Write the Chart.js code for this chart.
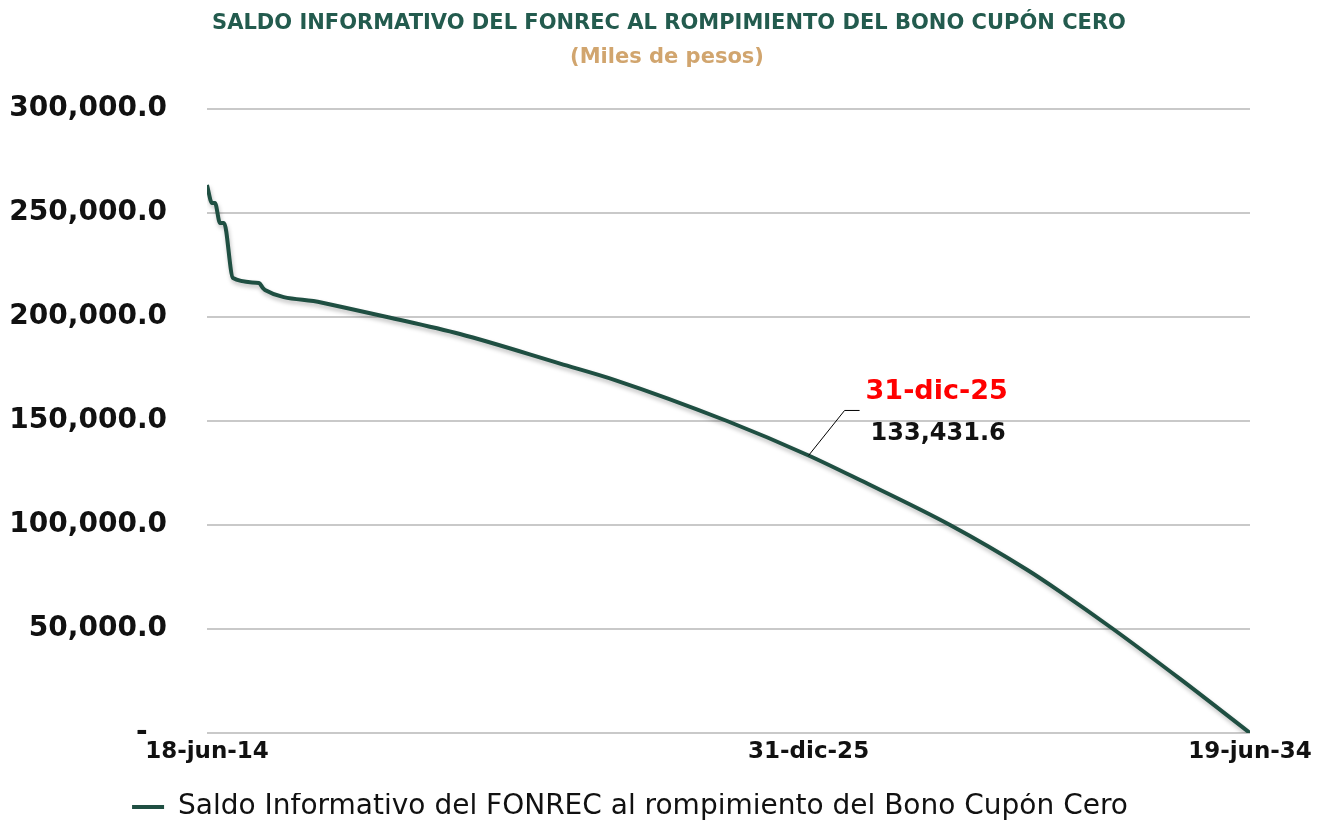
<!DOCTYPE html>
<html>
<head>
<meta charset="utf-8">
<script src="https://cdn.jsdelivr.net/npm/chart.js@4.4.1/dist/chart.umd.min.js"></script>
<style>
  body { margin: 0; background: #fff; }
  #wrap { width: 1318px; height: 825px; }
</style>
</head>
<body>
<div id="wrap"><canvas id="grafica" width="1318" height="825"></canvas></div>
<script>
// dias desde el 18-jun-14 y saldo en miles de pesos
const dias = [0, 35, 56, 91, 119, 182, 364, 392, 406, 800, 1261, 1772, 2473, 2858, 3643, 4214, 4574, 5205, 5744, 5975, 6347, 6816, 7306]
const saldo = [263500, 254800, 254800, 245200, 245200, 218750, 216350, 213900, 213000, 207000, 200000, 191800, 177600, 169700, 150000, 133431.6, 121600, 100000, 78500, 68000, 50000, 26000, 0]

const tickDias = [0, 4214, 7306]
const tickFechas = ['18-jun-14', '31-dic-25', '19-jun-34']
const yTicks = [0, 50000, 100000, 150000, 200000, 250000, 300000]

const titulo = 'SALDO INFORMATIVO DEL FONREC AL ROMPIMIENTO DEL BONO CUPÓN CERO'
const subtitulo = '(Miles de pesos)'
const serie = 'Saldo Informativo del FONREC al rompimiento del Bono Cupón Cero'
const corte = { dia: 4214, valor: 133431.6, fecha: '31-dic-25' }

const verde = '#1f4f42'
const fuente = "'DejaVu Sans'"

//formato contable: el cero se muestra como guion
const fmt = v => v === 0 ? '-  ' : v.toLocaleString('en-US', { minimumFractionDigits: 1, maximumFractionDigits: 1 })

//titulo y subtitulo centrados en la pagina
const encabezado = {
  id: 'encabezado',
  afterDraw(chart) {
    const ctx = chart.ctx
    const cx = chart.width / 2 + 10
    ctx.save()
    ctx.textAlign = 'center'
    ctx.textBaseline = 'middle'
    ctx.font = 'bold 21px ' + fuente
    ctx.fillStyle = '#235b4e'
    ctx.fillText(titulo, cx, 24)
    ctx.fillStyle = '#d1a56e'
    ctx.fillText(subtitulo, cx - 2, 58)
    ctx.restore()
  }
}

//sombra debajo de la linea
const sombra = {
  id: 'sombra',
  beforeDatasetDraw(chart) {
    const ctx = chart.ctx
    ctx.save()
    ctx.shadowColor = 'rgba(0,0,0,0.25)'
    ctx.shadowBlur = 4
    ctx.shadowOffsetX = 1
    ctx.shadowOffsetY = 3
  },
  afterDatasetDraw(chart) {
    chart.ctx.restore()
  }
}

//etiqueta con la linea guia en el 31-dic-25
const etiqueta = {
  id: 'etiqueta',
  afterDatasetsDraw(chart) {
    const ctx = chart.ctx
    const px = chart.scales.x.getPixelForValue(corte.dia)
    const py = chart.scales.y.getPixelForValue(corte.valor)
    ctx.save()
    ctx.strokeStyle = '#000'
    ctx.lineWidth = 1
    ctx.beginPath()
    ctx.moveTo(px, py)
    ctx.lineTo(px + 36, py - 45)
    ctx.lineTo(px + 51, py - 45)
    ctx.stroke()
    ctx.textAlign = 'left'
    ctx.textBaseline = 'middle'
    ctx.font = 'bold 27px ' + fuente
    ctx.fillStyle = '#ff0000'
    ctx.fillText(corte.fecha, px + 57, py - 63)
    ctx.font = 'bold 24px ' + fuente
    ctx.fillStyle = '#111'
    ctx.fillText(fmt(corte.valor), px + 62, py - 22)
    ctx.restore()
  }
}

new Chart(document.getElementById('grafica'), {
  type: 'line',
  data: {
    datasets: [{
      label: serie,
      data: dias.map((d, i) => ({ x: d, y: saldo[i] })),
      borderColor: verde,
      backgroundColor: verde,
      borderWidth: 4,
      pointRadius: 0,
      cubicInterpolationMode: 'monotone',
      fill: false
    }]
  },
  options: {
    responsive: false,
    animation: false,
    layout: { padding: { left: 10, right: 68, top: 109, bottom: -6 } },
    plugins: {
      title: { display: false },
      legend: {
        position: 'bottom',
        labels: {
          usePointStyle: true,
          pointStyle: 'line',
          pointStyleWidth: 32,
          color: '#111',
          font: { family: fuente, size: 28 },
          padding: 0
        }
      },
      tooltip: { enabled: false }
    },
    scales: {
      x: {
        type: 'linear',
        min: 0,
        max: 7306,
        afterBuildTicks: scale => { scale.ticks = tickDias.map(v => ({ value: v })) },
        afterFit: scale => { scale.height = 60 },
        ticks: {
          autoSkip: false,
          maxRotation: 0,
          padding: 5,
          color: '#111',
          font: { family: fuente, size: 23, weight: 'bold' },
          callback: (v) => tickFechas[tickDias.indexOf(v)]
        },
        grid: { display: false, drawTicks: false },
        border: { display: false }
      },
      y: {
        min: 0,
        max: 300000,
        afterBuildTicks: scale => { scale.ticks = yTicks.map(v => ({ value: v })) },
        afterFit: scale => { scale.width = 197 },
        ticks: {
          padding: 40,
          color: '#111',
          font: { family: fuente, size: 28, weight: 'bold' },
          callback: v => fmt(v)
        },
        grid: { color: '#c9c9c9', lineWidth: 2, drawTicks: false },
        border: { display: false }
      }
    }
  },
  plugins: [encabezado, sombra, etiqueta]
})
</script>
</body>
</html>
